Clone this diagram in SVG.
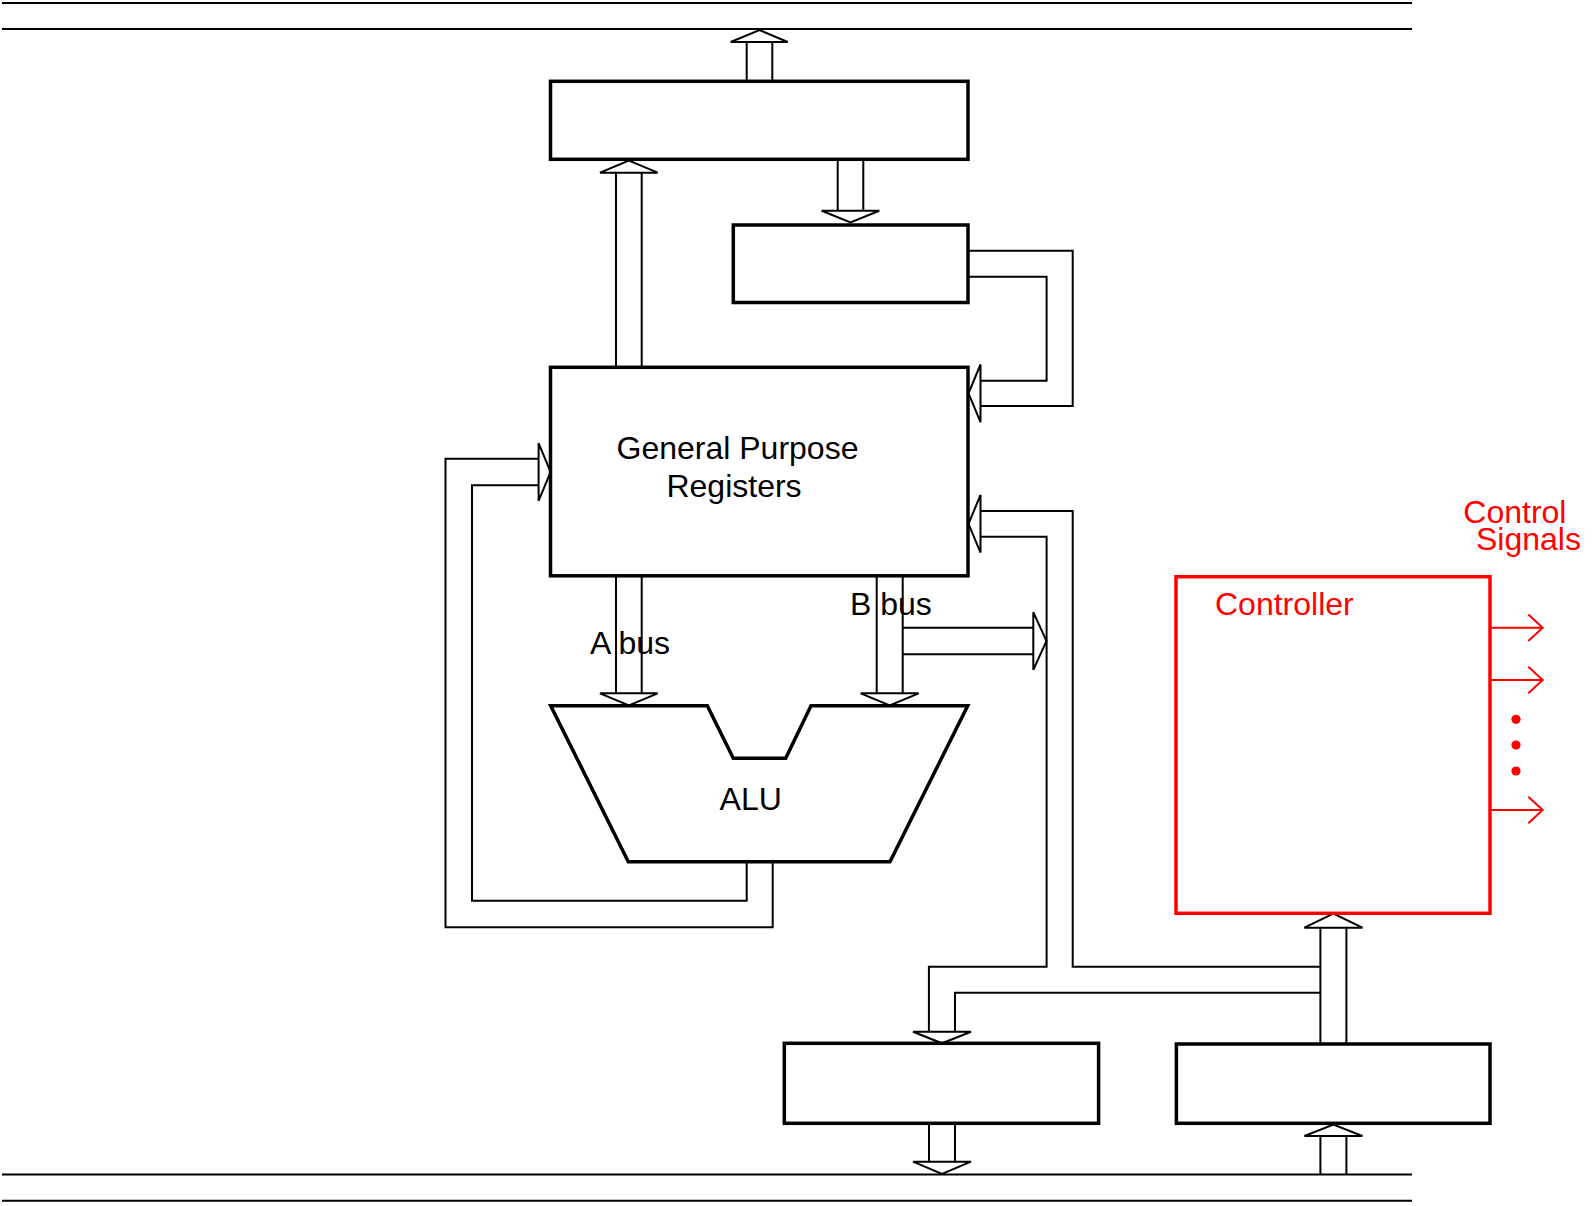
<svg xmlns="http://www.w3.org/2000/svg" width="1595" height="1206" viewBox="0 0 1595 1206">
<style>
.box{fill:#fff;stroke:#000;stroke-width:3.5}
.ctl{fill:#fff;stroke:#ff0000;stroke-width:3.5}
.ln{fill:none;stroke:#000;stroke-width:2}
.hd{fill:#fff;stroke:#000;stroke-width:2;stroke-linejoin:miter}
.rl{fill:none;stroke:#ff0000;stroke-width:2}
.t{font-family:"Liberation Sans",Arial,Helvetica,sans-serif;font-size:32px;fill:#000}
.r{fill:#ff0000}
</style>
<rect width="1595" height="1206" fill="#fff"/>
<g id="buses">
<line class="ln" x1="2" y1="3" x2="1412" y2="3"/>
<line class="ln" x1="2" y1="29" x2="1412" y2="29"/>
<line class="ln" x1="2" y1="1174.5" x2="1412" y2="1174.5"/>
<line class="ln" x1="2" y1="1200.7" x2="1412" y2="1200.7"/>
</g>
<g id="connectors">
<!-- top box to top bus -->
<polyline class="ln" points="746.7,81 746.7,42"/>
<polyline class="ln" points="772.3,81 772.3,42"/>
<polygon class="hd" points="730.7,42 759.5,30 787.7,42"/>
<!-- GPR up to top box -->
<polyline class="ln" points="616,367 616,172.7"/>
<polyline class="ln" points="641.7,367 641.7,172.7"/>
<polygon class="hd" points="600,172.7 628.9,160.7 657.7,172.7"/>
<!-- top box down to second box -->
<polyline class="ln" points="837.7,160 837.7,210.7"/>
<polyline class="ln" points="863.3,160 863.3,210.7"/>
<polygon class="hd" points="821.7,210.7 850.5,222.5 879.3,210.7"/>
<!-- second box to GPR right -->
<polyline class="ln" points="968,250.7 1072.7,250.7 1072.7,406 980.5,406"/>
<polyline class="ln" points="968,276.7 1046.6,276.7 1046.6,380.7 980.5,380.7"/>
<polygon class="hd" points="980.5,364.5 968.5,393.3 980.5,422.2"/>
<!-- ALU back to GPR left -->
<polyline class="ln" points="772.7,862 772.7,927.3 445.5,927.3 445.5,458.7 538.6,458.7"/>
<polyline class="ln" points="746.7,862 746.7,900.7 472,900.7 472,485.3 538.6,485.3"/>
<polygon class="hd" points="538.6,443.2 550.6,472 538.6,500.8"/>
<!-- A bus -->
<polyline class="ln" points="616,576 616,693.3"/>
<polyline class="ln" points="641.7,576 641.7,693.3"/>
<polygon class="hd" points="600,693.3 628.9,705.3 657.7,693.3"/>
<!-- B bus -->
<polyline class="ln" points="876.7,576 876.7,693.3"/>
<polyline class="ln" points="902.7,576 902.7,693.3"/>
<polygon class="hd" points="860.7,693.3 889.7,705.3 918.7,693.3"/>
<polyline class="ln" points="902.7,627.7 1033.3,627.7"/>
<polyline class="ln" points="902.7,654.3 1033.3,654.3"/>
<polygon class="hd" points="1033.3,612.2 1046.5,641 1033.3,669.8"/>
<!-- lower loop into GPR right / to bottom-left box -->
<polyline class="ln" points="980.5,511 1072.7,511 1072.7,966.7 1320.4,966.7"/>
<polyline class="ln" points="980.5,536.7 1046.6,536.7 1046.6,966.7 928.9,966.7 928.9,1031.7"/>
<polyline class="ln" points="1320.4,992.7 955,992.7 955,1031.7"/>
<polygon class="hd" points="980.5,495 968.5,523.8 980.5,552.6"/>
<polygon class="hd" points="913,1031.7 942,1043.3 971,1031.7"/>
<!-- bottom-left box down to bottom bus -->
<polyline class="ln" points="929,1123.3 929,1161.7"/>
<polyline class="ln" points="955,1123.3 955,1161.7"/>
<polygon class="hd" points="913,1161.7 942,1174 971,1161.7"/>
<!-- bottom-right box up to controller -->
<polyline class="ln" points="1320.4,1044 1320.4,927.7"/>
<polyline class="ln" points="1346.4,1044 1346.4,927.7"/>
<polygon class="hd" points="1304.4,927.7 1333.4,913.5 1362.4,927.7"/>
<!-- bottom bus up to bottom-right box -->
<polyline class="ln" points="1320.4,1174.5 1320.4,1136"/>
<polyline class="ln" points="1346.4,1174.5 1346.4,1136"/>
<polygon class="hd" points="1304.4,1136 1333.4,1124.5 1362.4,1136"/>
<!-- control signal arrows -->
<line class="rl" x1="1490" y1="627.7" x2="1542.7" y2="627.7"/>
<polyline class="rl" points="1528.3,614.5 1542.7,627.7 1528.3,641"/>
<line class="rl" x1="1490" y1="680" x2="1542.7" y2="680"/>
<polyline class="rl" points="1528.3,666.8 1542.7,680 1528.3,693.3"/>
<line class="rl" x1="1490" y1="810" x2="1542.7" y2="810"/>
<polyline class="rl" points="1528.3,796.8 1542.7,810 1528.3,823.3"/>
<circle class="r" cx="1516" cy="719.3" r="4.6"/>
<circle class="r" cx="1516" cy="745" r="4.6"/>
<circle class="r" cx="1516" cy="771" r="4.6"/>
</g>
<g id="top-register">
<rect class="box" x="550.5" y="81.3" width="417.5" height="78"/>
</g>
<g id="second-register">
<rect class="box" x="733.3" y="225" width="234.7" height="77.5"/>
</g>
<g id="gpr">
<rect class="box" x="550.5" y="367.3" width="417.5" height="208.5"/>
<text class="t" x="737.5" y="459" text-anchor="middle">General Purpose</text>
<text class="t" x="734" y="497" text-anchor="middle">Registers</text>
</g>
<g id="alu">
<polygon class="box" points="550.7,705.7 707.3,705.7 733.3,758.3 785.7,758.3 811,705.7 967.7,705.7 890,861.7 628.3,861.7"/>
<text class="t" x="750.7" y="810" text-anchor="middle">ALU</text>
</g>
<g id="bus-labels">
<text class="t" x="590" y="654.3">A bus</text>
<text class="t" x="850" y="615">B bus</text>
</g>
<g id="controller">
<rect class="ctl" x="1176" y="576.7" width="314" height="336.6"/>
<text class="t r" x="1215" y="615">Controller</text>
</g>
<g id="control-signals-label">
<text class="t r" x="1463.3" y="523.3">Control</text>
<text class="t r" x="1476" y="550">Signals</text>
</g>
<g id="bottom-left-register">
<rect class="box" x="784.3" y="1043.3" width="314.3" height="80"/>
</g>
<g id="bottom-right-register">
<rect class="box" x="1176.4" y="1044" width="313.6" height="79.3"/>
</g>
</svg>
